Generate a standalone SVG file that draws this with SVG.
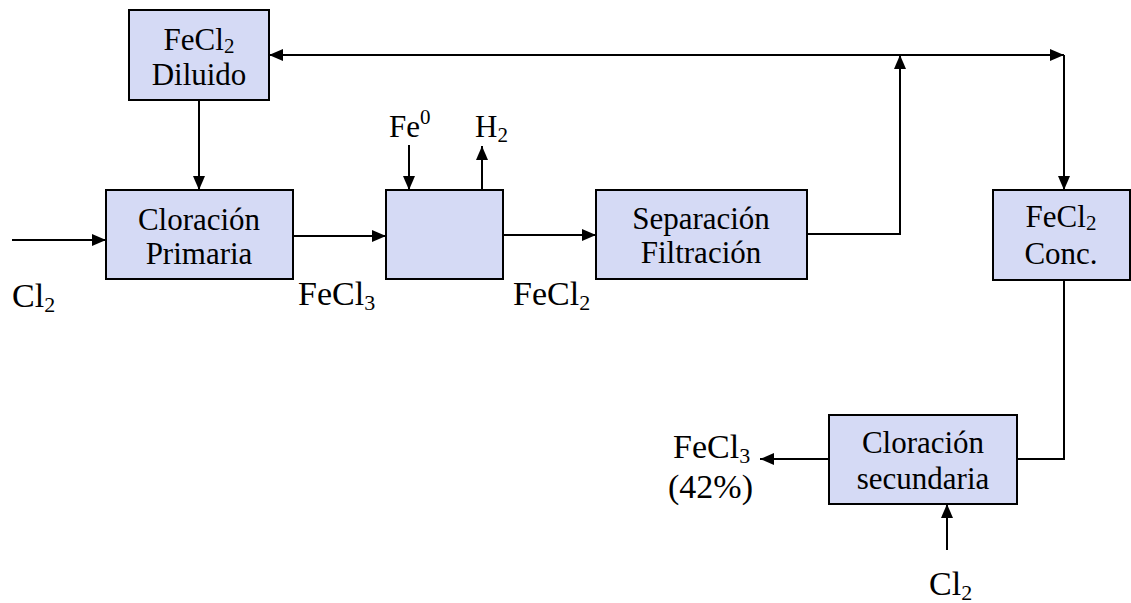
<svg xmlns="http://www.w3.org/2000/svg" width="1131" height="603" viewBox="0 0 1131 603">
<style>
.box{fill:#d5daf5;stroke:#000;stroke-width:2}
.ln{fill:none;stroke:#000;stroke-width:2}
text{font-family:"Liberation Serif","Times New Roman","DejaVu Serif",serif;fill:#000}
.in{font-size:31px;text-anchor:middle}
.out{font-size:34px}
.sm{font-size:31px}
</style>
<defs>
<marker id="ah" viewBox="0 0 14 12" refX="14" refY="6" markerWidth="14" markerHeight="12" markerUnits="userSpaceOnUse" orient="auto">
<path d="M0,0 L14,6 L0,12 Z" fill="#000"/>
</marker>
</defs>
<g id="connectors">
<line class="ln" x1="12" y1="240" x2="106" y2="240" marker-end="url(#ah)"/>
<line class="ln" x1="199" y1="100" x2="199" y2="190" marker-end="url(#ah)"/>
<line class="ln" x1="293" y1="236" x2="386" y2="236" marker-end="url(#ah)"/>
<line class="ln" x1="409" y1="145" x2="409" y2="190" marker-end="url(#ah)"/>
<line class="ln" x1="482" y1="190" x2="482" y2="146" marker-end="url(#ah)"/>
<line class="ln" x1="503" y1="235" x2="596" y2="235" marker-end="url(#ah)"/>
<polyline class="ln" points="807,234 900,234 900,55" marker-end="url(#ah)"/>
<line class="ln" x1="900" y1="55" x2="269" y2="55" marker-end="url(#ah)"/>
<line class="ln" x1="900" y1="55" x2="1064" y2="55" marker-end="url(#ah)"/>
<line class="ln" x1="1064" y1="55" x2="1064" y2="190" marker-end="url(#ah)"/>
<polyline class="ln" points="1064,280 1064,459 1017,459"/>
<line class="ln" x1="829" y1="459" x2="760" y2="459" marker-end="url(#ah)"/>
<line class="ln" x1="947" y1="550" x2="947" y2="504" marker-end="url(#ah)"/>
</g>
<g id="fecl2-diluido">
<rect class="box" x="129" y="10" width="140" height="90"/>
<text class="in" x="199" y="50">FeCl<tspan font-size="21" dy="3">2</tspan></text>
<text class="in" x="199" y="85">Diluido</text>
</g>
<g id="cloracion-primaria">
<rect class="box" x="106" y="190" width="187" height="89"/>
<text class="in" x="199" y="230">Cloración</text>
<text class="in" x="199" y="264">Primaria</text>
</g>
<g id="reactor">
<rect class="box" x="386" y="190" width="117" height="89"/>
</g>
<g id="separacion">
<rect class="box" x="596" y="190" width="211" height="89"/>
<text class="in" x="701" y="229">Separación</text>
<text class="in" x="701" y="263">Filtración</text>
</g>
<g id="fecl2-conc">
<rect class="box" x="993" y="190" width="137" height="90"/>
<text class="in" x="1061" y="227">FeCl<tspan font-size="21" dy="3">2</tspan></text>
<text class="in" x="1061" y="264">Conc.</text>
</g>
<g id="cloracion-secundaria">
<rect class="box" x="829" y="415" width="188" height="89"/>
<text class="in" x="923" y="453">Cloración</text>
<text class="in" x="923" y="489">secundaria</text>
</g>
<g id="labels">
<text class="out" x="12" y="307">Cl<tspan font-size="22" dy="5">2</tspan></text>
<text class="out" x="298" y="305">FeCl<tspan font-size="22" dy="5">3</tspan></text>
<text class="out" x="513" y="305">FeCl<tspan font-size="22" dy="5">2</tspan></text>
<text class="sm" x="389" y="137">Fe<tspan font-size="21" dy="-13">0</tspan></text>
<text class="sm" x="475" y="137">H<tspan font-size="21" dy="5">2</tspan></text>
<text class="out" x="673" y="458">FeCl<tspan font-size="22" dy="5">3</tspan></text>
<text class="out" x="668" y="498">(42%)</text>
<text class="out" x="929" y="595">Cl<tspan font-size="22" dy="5">2</tspan></text>
</g>
</svg>
